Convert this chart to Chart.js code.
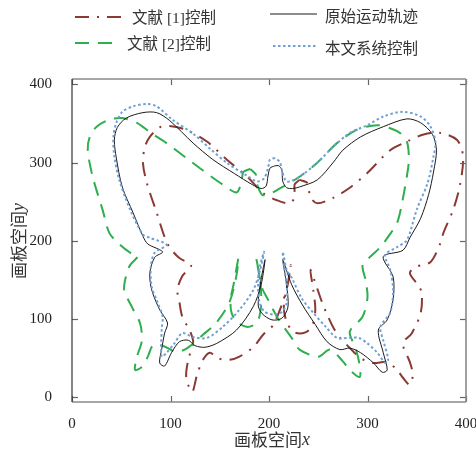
<!DOCTYPE html>
<html><head><meta charset="utf-8">
<script src="https://cdn.jsdelivr.net/npm/chart.js@4"></script>
<style>html,body{margin:0;padding:0;background:#fff;}#wrap{width:476px;height:451px;}</style>
</head><body><div id="wrap"><canvas id="c" width="476" height="451"></canvas></div>
<script>
const xTicks=[0,100,200,300,400];
const yTicks=[0,100,200,300,400];
const names=['文献 [1]控制','原始运动轨迹','文献 [2]控制','本文系统控制'];

// 原始运动轨迹
const origX=[206,201,199,197,192,183,165,143,123,99,86,72,55,46,43,45,51,62,72,77,92,84,79,81,89,97,94,91,89,94,101,109,118,125,135,147,167,184,192,196,192,189,193,203,213,219,219,216,214,223,234,247,259,272,282,293,306,315,320,316,311,320,326,326,316,336,343,354,362,367,370,366,354,340,316,293,275,265,249,231,224,218,214,213,210,206];
const origY=[296,293,283,270,267,272,286,304,325,354,364,364,357,345,329,306,269,236,206,196,186,179,159,137,112,95,82,61,44,40,57,71,73,66,64,69,86,116,144,176,151,118,107,99,101,114,131,160,176,144,118,93,71,61,63,57,44,32,35,57,86,99,125,154,180,188,204,229,259,288,316,336,351,356,346,333,316,300,278,269,267,268,276,291,296,296];

// 本文系统控制
const sysX=[206,201,199,195,188,178,157,140,123,102,86,76,62,51,45,42,43,48,59,72,79,96,84,80,81,87,92,91,91,96,104,112,123,137,153,170,184,191,195,191,189,190,195,204,213,218,218,215,214,218,223,233,245,257,269,282,291,300,310,318,321,316,313,323,326,323,318,330,340,350,361,367,369,364,354,336,316,300,282,265,249,231,218,213,211,206];
const sysY=[306,304,293,280,276,283,300,318,337,355,372,375,372,365,351,333,308,278,240,208,204,195,185,167,141,121,103,86,52,57,69,82,77,76,90,112,137,163,186,169,149,124,110,106,109,121,144,169,186,163,153,127,108,91,76,76,76,69,57,44,48,73,90,108,137,163,182,192,201,240,274,308,326,346,359,365,359,348,338,320,300,282,276,291,301,306];

// 文献 [1]控制
const ref1X=[231,226,226,221,208,194,178,157,137,116,99,89,79,74,72,76,86,94,99,109,121,112,107,109,112,120,123,118,116,122,127,133,140,148,160,170,184,194,204,214,220,222,219,215,218,226,237,244,247,245,242,249,254,260,265,272,279,286,293,306,320,330,336,343,346,343,336,345,354,355,351,343,350,364,374,377,387,394,397,391,374,357,340,323,300,282,265,249,242,239,231];
const ref1Y=[278,272,256,248,252,261,282,304,327,342,347,345,333,320,300,274,236,205,192,178,169,155,137,122,103,84,70,48,25,7,29,48,57,50,48,52,64,80,92,122,150,169,144,118,96,83,83,92,112,137,163,139,121,103,90,76,67,58,50,44,45,35,25,16,29,45,69,82,108,134,144,159,167,173,197,210,240,272,308,329,338,336,327,316,287,268,255,248,256,274,278];

// 文献 [2]控制
const ref2X=[181,174,172,167,153,133,116,96,79,66,51,38,25,18,16,21,31,38,48,59,67,59,55,53,61,69,71,66,64,71,77,82,92,106,117,133,147,160,167,169,164,161,162,168,178,188,192,191,187,193,199,209,223,231,250,262,275,282,292,292,288,282,295,300,298,295,303,313,322,330,335,341,342,340,333,323,310,289,269,249,231,211,199,193,188,187,181];
const ref2Y=[292,288,275,262,272,290,306,325,339,351,357,355,346,333,316,282,240,210,196,185,181,169,156,137,115,95,73,52,35,39,52,66,66,58,63,80,96,122,156,178,144,125,108,96,90,96,118,150,178,140,125,101,76,61,52,61,46,35,26,41,63,84,103,128,150,169,180,192,207,223,248,291,307,327,338,344,348,342,325,300,282,267,259,259,272,284,292];

function pts(xs,ys){return xs.map((v,i)=>({x:v,y:ys[i]}));}

const colors={ref1:'#8a3a33',orig:'#1a1a1a',ref2:'#2fae4e',sys:'#6f9fd6'};
const dashes={ref1:[14,8,2,8],orig:[],ref2:[14,9],sys:[2.5,2.5]};

const deco={id:'deco',
 afterDraw(chart){
  const ctx=chart.ctx,a=chart.chartArea,xs=chart.scales.x,ys=chart.scales.y;
  ctx.save();
  const line=(x1,y1,x2,y2)=>{ctx.beginPath();ctx.moveTo(x1,y1);ctx.lineTo(x2,y2);ctx.stroke();};
  ctx.setLineDash([]);
  ctx.strokeStyle='#666';ctx.lineWidth=1.2;
  xTicks.forEach(v=>{const p=Math.round(xs.getPixelForValue(v))+0.5;line(p,a.bottom,p,a.bottom-6);line(p,a.top,p,a.top+6);});
  yTicks.forEach(v=>{const p=Math.round(ys.getPixelForValue(v))+0.5;line(a.left,p,a.left+6,p);line(a.right,p,a.right-6,p);});
  ctx.strokeStyle='#888';ctx.lineWidth=1.6;
  line(a.left,a.top,a.right,a.top);line(a.right,a.top,a.right,a.bottom);line(a.left,a.bottom,a.right,a.bottom);
  ctx.strokeStyle='#333';ctx.lineWidth=1.2;
  line(a.left,a.top,a.left,a.bottom);
  // legend
  const lf='15.5px "Liberation Serif","Noto Sans CJK SC"';
  ctx.font=lf;ctx.fillStyle='#333';ctx.textBaseline='middle';ctx.textAlign='left';
  const item=(key,x1,x2,ly,text,tx,ty,w)=>{
    ctx.strokeStyle=colors[key];ctx.lineWidth=w;ctx.setLineDash(dashes[key]);line(x1,ly,x2,ly);
    ctx.setLineDash([]);ctx.fillText(text,tx,ty);
  };
  item('ref1',75,123,17,names[0],132,19,2);
  item('orig',270,317,14,names[1],325,18,1);
  item('ref2',75,115,43,names[2],127,45,2);
  item('sys',273,318,46,names[3],325,50,2);
  // axis titles
  const cf='17px "Noto Sans CJK SC"', itf='italic 18px "Liberation Serif"';
  const drawTitle=(main,v,cx,cy,rot)=>{
    ctx.save();ctx.translate(cx,cy);if(rot)ctx.rotate(-Math.PI/2);
    ctx.font=cf;const w1=ctx.measureText(main).width;ctx.font=itf;const w2=ctx.measureText(v).width;
    const s=-(w1+w2)/2;ctx.fillStyle='#333';ctx.textBaseline='middle';ctx.textAlign='left';
    ctx.font=cf;ctx.fillText(main,s,0);ctx.font=itf;ctx.fillText(v,s+w1,0);ctx.restore();
  };
  drawTitle('画板空间','x',272,440,false);
  drawTitle('画板空间','y',19,241,true);
  ctx.restore();
 }};

const mk=(label,key,xs,ys,w)=>({label:label,data:pts(xs,ys),showLine:true,fill:false,pointRadius:0,
  borderColor:colors[key],borderWidth:w,borderDash:dashes[key],tension:0.3,borderCapStyle:'butt'});

new Chart(document.getElementById('c'),{
 type:'scatter',
 data:{datasets:[
  mk(names[3],'sys',sysX,sysY,2),
  mk(names[1],'orig',origX,origY,1),
  mk(names[2],'ref2',ref2X,ref2Y,2),
  mk(names[0],'ref1',ref1X,ref1Y,2)
 ]},
 options:{responsive:false,animation:false,devicePixelRatio:1,
  layout:{padding:{left:0,top:79,right:10,bottom:0}},
  plugins:{legend:{display:false},tooltip:{enabled:false}},
  scales:{
   x:{type:'linear',min:0,max:400,
     ticks:{stepSize:100,padding:5,maxRotation:0,color:'#222',font:{family:'Liberation Serif',size:15}},
     grid:{display:false},border:{display:false},
     afterFit(s){s.height=49;s.paddingRight=0;s.paddingLeft=0;}},
   y:{type:'linear',min:-6,max:407,
     afterBuildTicks(s){s.ticks=yTicks.map(v=>({value:v}));},
     ticks:{padding:12,color:'#222',font:{family:'Liberation Serif',size:15}},
     grid:{display:false},border:{display:false},
     afterFit(s){s.width=72;s.paddingTop=0;s.paddingBottom=0;}}
  }},
 plugins:[deco]
});
</script></body></html>
